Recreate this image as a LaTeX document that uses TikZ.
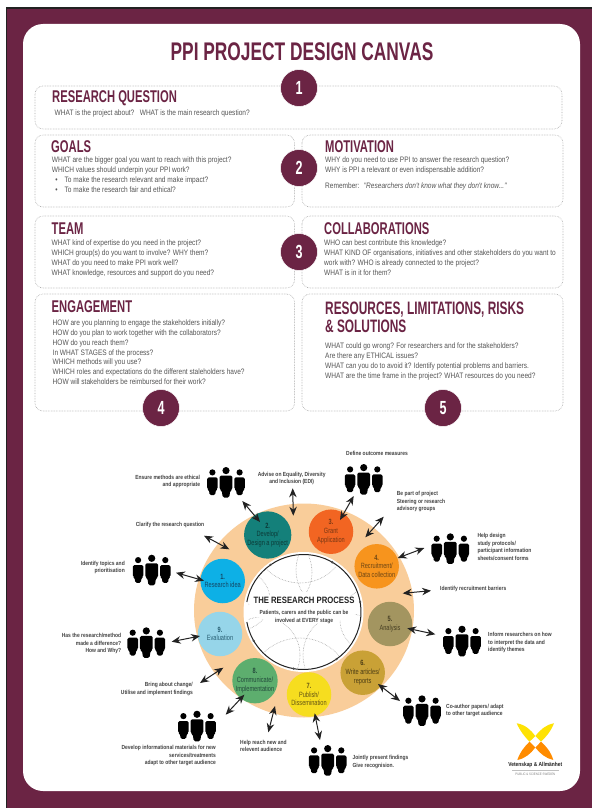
\documentclass[tikz,border=0pt]{standalone}
\usepackage{fontspec}
\usetikzlibrary{arrows.meta}
\setmainfont{Liberation Sans}
\newfontfamily\titlef[FakeStretch=0.68]{Liberation Sans}
\newfontfamily\headf[FakeStretch=0.66]{Liberation Sans}
\newfontfamily\bodyf[FakeStretch=0.83]{Liberation Sans}
\newfontfamily\stagef[FakeStretch=0.74]{Liberation Sans}
\newfontfamily\labf[FakeStretch=0.84]{Liberation Sans}
\definecolor{maroon}{HTML}{6B2444}
\definecolor{bodygray}{HTML}{555555}
\definecolor{boxgray}{HTML}{ABABAB}
\definecolor{ringc}{HTML}{F9CD9A}
\definecolor{inkc}{HTML}{222222}
\tikzset{
 canvasbox/.style={draw=boxgray,densely dotted,line width=.6pt,rounded corners=8pt},
 headt/.style={anchor=west,inner sep=0pt,text=maroon,font=\headf\bfseries\fontsize{17}{17}\selectfont,align=left},
 bodyt/.style={anchor=north west,inner sep=0pt,text=bodygray,font=\bodyf\fontsize{7.9}{9.7}\selectfont,align=left},
 numc/.style={circle,fill=maroon,draw=white,line width=.5pt,minimum size=37pt,inner sep=0pt,text=white,font=\headf\bfseries\fontsize{19}{19}\selectfont},
 stage/.style={circle,minimum size=44.5pt,inner sep=0pt,align=center,font=\stagef\fontsize{7.6}{8.7}\selectfont},
 lab/.style={inner sep=0pt,text=inkc!85!white,font=\labf\bfseries\fontsize{5.9}{7.5}\selectfont},
 labl/.style={lab,anchor=north west,align=left},
 labr/.style={lab,anchor=north east,align=right},
 labc/.style={lab,anchor=north,align=center},
 biarrow/.style={{Stealth[length=9pt,width=7.5pt,inset=3pt]}-{Stealth[length=9pt,width=7.5pt,inset=3pt]},line width=1pt,draw=inkc},
 netline/.style={draw=gray!80,densely dotted,line width=.55pt},
 people/.pic={
  \fill[black] (0,3.6) circle (3.6);
  \fill[black,rounded corners=1.5pt] (-6.4,8.6) -- (6.4,8.6) -- (6.4,22.5) -- (4.3,23.5) -- (3.2,30.6) -- (-3.2,30.6) -- (-4.3,23.5) -- (-6.4,22.5) -- cycle;
  \foreach \s in {-13.6,13.6}{
   \fill[black] (\s,5.4) circle (3.1);
   \fill[black,rounded corners=1.5pt] (\s-5.3,10.4) -- (\s+5.3,10.4) -- (\s+5.3,22) -- (\s+3.4,23) -- (\s+2.8,28.2) -- (\s-2.8,28.2) -- (\s-3.4,23) -- (\s-5.3,22) -- cycle;
  }
 }
}
\begin{document}
\begin{tikzpicture}[x=1pt,y=-1pt]
\useasboundingbox (0,0) rectangle (592,808);
\fill[white] (0,0) rectangle (592,808);
\fill[inkc] (6,7.5) rectangle (592,808);
\fill[maroon] (7,9) rectangle (592,808);
\fill[white,rounded corners=20pt] (23,24) rectangle (580,791);
\node[inner sep=0pt,text=maroon,font=\titlef\bfseries\fontsize{25.5}{26}\selectfont] (title) at (302,52) {PPI PROJECT DESIGN CANVAS};

% boxes
\draw[canvasbox] (35,86) rectangle (562,129);
\draw[canvasbox] (35,135) rectangle (294.5,207);
\draw[canvasbox] (302,135) rectangle (563,207);
\draw[canvasbox] (35,216) rectangle (294.5,288);
\draw[canvasbox] (302,216) rectangle (563,288);
\draw[canvasbox] (35,294) rectangle (294.5,411);
\draw[canvasbox] (302,294) rectangle (563,411);

% headings and text
\node[headt] (hq) at (52,98) {RESEARCH QUESTION};
\node[bodyt] (tq) at (54.5,110) {WHAT is the project about?\hspace{3pt} WHAT is the main research question?};
\node[headt] (hg) at (51,147) {GOALS};
\node[bodyt] (tg) at (51.7,157) {WHAT are the bigger goal you want to reach with this project?\\WHICH values should underpin your PPI work?\\\hspace*{3.5pt}•\hspace{7pt}To make the research relevant and make impact?\\\hspace*{3.5pt}•\hspace{7pt}To make the research fair and ethical?};
\node[headt] (hm) at (325,147) {MOTIVATION};
\node[bodyt] (tm) at (325,157) {WHY do you need to use PPI to answer the research question?\\WHY is PPI a relevant or even indispensable addition?};
\node[bodyt] (tr) at (325,183) {Remember:\hspace{2pt} \itshape "Researchers don't know what they don't know..."};
\node[headt] (ht) at (51.5,229) {TEAM};
\node[bodyt] (tt) at (51.5,240) {WHAT kind of expertise do you need in the project?\\WHICH group(s) do you want to involve? WHY them?\\WHAT do you need to make PPI work well?\\WHAT knowledge, resources and support do you need?};
\node[headt] (hc) at (324,229) {COLLABORATIONS};
\node[bodyt] (tc) at (324,240) {WHO can best contribute this knowledge?\\WHAT KIND OF organisations, initiatives and other stakeholders do you want to\\work with? WHO is already connected to the project?\\WHAT is in it for them?};
\node[headt] (he) at (51.5,307) {ENGAGEMENT};
\node[bodyt] (te) at (52.5,320) {HOW are you planning to engage the stakeholders initially?\\HOW do you plan to work together with the collaborators?\\HOW do you reach them?\\In WHAT STAGES of the process?\\WHICH methods will you use?\\WHICH roles and expectations do the different staleholders have?\\HOW will stakeholders be reimbursed for their work?};
\node[headt,font=\headf\bfseries\fontsize{18}{18}\selectfont,anchor=north west] (hr) at (325,302) {RESOURCES, LIMITATIONS, RISKS\\\& SOLUTIONS};
\node[bodyt] (tx) at (325,343) {WHAT could go wrong? For researchers and for the stakeholders?\\Are there any ETHICAL issues?\\WHAT can you do to avoid it? Identify potential problems and barriers.\\WHAT are the time frame in the project? WHAT resources do you need?};

\node[numc] (n1) at (299,88) {1};
\node[numc] (n2) at (299,168) {2};
\node[numc] (n3) at (299,252) {3};
\node[numc] (n4) at (161,408) {4};
\node[numc] (n5) at (443,408) {5};

% ring
\fill[ringc] (304,610.5) ellipse [x radius=110, y radius=107];
\fill[white] (303.5,612) circle (60);
\begin{scope}
\clip (303.5,612) circle (56);
\draw[netline] (272,572) circle (40);
\draw[netline] (338,570) circle (42);
\draw[netline] (300,535) circle (48);
\draw[netline] (262,655) circle (38);
\draw[netline] (345,655) circle (42);
\draw[netline] (300,690) circle (52);
\draw[netline] (240,600) circle (30);
\draw[netline] (372,620) circle (32);
\end{scope}
\fill[white] (304,608) ellipse [x radius=56, y radius=16];
\draw[inkc,line width=1pt] (303.5,612) ++(190:57.5) arc [start angle=190,end angle=530,radius=57.5];
\foreach \a in {235,300,350,55,100,150}{\fill[gray!60!black] (303.5,612) ++(\a:57.5) circle (1.3);}
\node[inner sep=0pt,text=inkc,font=\labf\bfseries\fontsize{9.2}{10}\selectfont] (rp) at (304,600.7) {THE RESEARCH PROCESS};
\node[inner sep=0pt,text=inkc!85!white,align=center,font=\labf\bfseries\fontsize{5.9}{7.7}\selectfont] (rps) at (304,617) {Patients, carers and the public can be\\involved at EVERY stage};

% stages
\node[stage,fill={rgb,255:red,13;green,176;blue,230},text={rgb,255:red,20;green,70;blue,100}] (s1) at (222.7,581) {\textbf{1.}\\Research idea};
\node[stage,fill={rgb,255:red,20;green,128;blue,122},text={rgb,255:red,12;green,58;blue,55}] (s2) at (267.7,535) {\textbf{2.}\\Develop/\\Design a project};
\node[stage,fill={rgb,255:red,242;green,101;blue,34},text={rgb,255:red,120;green,55;blue,20}] (s3) at (331,531.7) {\textbf{3.}\\Grant\\Application};
\node[stage,fill={rgb,255:red,247;green,148;blue,29},text={rgb,255:red,110;green,70;blue,20}] (s4) at (376.7,566.3) {\textbf{4.}\\Recruitment/\\Data collection};
\node[stage,fill={rgb,255:red,163;green,149;blue,96},text={rgb,255:red,70;green,62;blue,35}] (s5) at (390,624) {\textbf{5.}\\Analysis};
\node[stage,fill={rgb,255:red,201;green,161;blue,54},text={rgb,255:red,75;green,60;blue,20}] (s6) at (362.7,672.7) {\textbf{6.}\\Write articles/\\reports};
\node[stage,fill={rgb,255:red,246;green,221;blue,31},text={rgb,255:red,100;green,85;blue,20}] (s7) at (309,694.5) {\textbf{7.}\\Publish/\\Dissemination};
\node[stage,fill={rgb,255:red,93;green,174;blue,110},text={rgb,255:red,35;green,75;blue,60}] (s8) at (255,680.7) {\textbf{8.}\\Communicate/\\Implementation};
\node[stage,fill={rgb,255:red,150;green,213;blue,233},text={rgb,255:red,40;green,95;blue,115}] (s9) at (220,634) {\textbf{9.}\\Evaluation};

% people
\pic at (226,467) {people};
\pic at (151.7,554.7) {people};
\pic at (363.7,464) {people};
\pic at (450.3,533.3) {people};
\pic at (462,625.7) {people};
\pic at (422,695.3) {people};
\pic at (327.7,745) {people};
\pic at (197,710.7) {people};
\pic at (146.3,627.3) {people};

% arrow ends
\coordinate (a1a) at (176,572.7);  \coordinate (a1b) at (204,580.7);
\coordinate (a2a) at (204,535.7);  \coordinate (a2b) at (229.3,549.3);
\coordinate (a3a) at (242.3,501);  \coordinate (a3b) at (260,522);
\coordinate (a4a) at (292.7,488.3);\coordinate (a4b) at (293.3,515.7);
\coordinate (a5a) at (353.7,496);  \coordinate (a5b) at (340,520);
\coordinate (a6a) at (383.7,516.7);\coordinate (a6b) at (365.3,537.3);
\coordinate (a7a) at (424.3,548);  \coordinate (a7b) at (397.7,558);
\coordinate (a8a) at (431,590.7);  \coordinate (a8b) at (402.7,593.3);
\coordinate (a9a) at (407.3,628.3);\coordinate (a9b) at (435.3,634.3);
\coordinate (a10a) at (378,684);   \coordinate (a10b) at (400,701);
\coordinate (a11a) at (314.7,713.3);\coordinate (a11b) at (320,740);
\coordinate (a12a) at (275,706);   \coordinate (a12b) at (268.3,732.3);
\coordinate (a13a) at (244.3,694.7);\coordinate (a13b) at (225.7,714.7);
\coordinate (a14a) at (223.3,667.7);\coordinate (a14b) at (200,683);
\coordinate (a15a) at (200,636);   \coordinate (a15b) at (171.7,641.7);
\foreach \i in {1,...,15}{\draw[biarrow] (a\i a) -- (a\i b);}

% labels
\node[labr] (l1) at (200.3,475) {Ensure methods are ethical\\and appropriate};
\node[labc] (l2) at (291.7,471.7) {Advise on Equality, Diversity\\and Inclusion (EDI)};
\node[labl] (l3) at (135.7,521.8) {Clarify the research question};
\node[labr] (l4) at (125,561) {Identify topics and\\prioritisation};
\node[labl] (l5) at (346,451.5) {Define outcome measures};
\node[labl] (l6) at (396.7,491.5) {Be part of project\\Steering or research\\advisory groups};
\node[labl] (l7) at (477.3,533.5) {Help design\\study protocols/\\participant information\\sheets/consent forms};
\node[labl] (l8) at (440,585.8) {Identify recruitment barriers};
\node[labl] (l9) at (488,632.5) {Inform researchers on how\\to interpret the data and\\identify themes};
\node[labl] (l10) at (446,704) {Co-author papers/ adapt\\to other target audience};
\node[labl] (l11) at (352.3,755.5) {Jointly present findings\\Give recognision.};
\node[labl] (l12) at (240,740) {Help reach new and\\relevent audience};
\node[labr] (l13) at (216,745.5) {Develop informational materials for new\\services/treatments\\adapt to other target audience};
\node[labr] (l14) at (193,682.5) {Bring about change/\\Utilise and implement findings};
\node[labr] (l15) at (121.3,633.5) {Has the research/method\\made a difference?\\How and Why?};

% logo
\fill[yellow!85!orange] (516.7,723.3) .. controls (525,724.5) and (531,730) .. (535.3,736) -- (529.5,741.7) .. controls (525,737) and (520,731) .. cycle;
\fill[yellow!85!orange] (554,723.3) .. controls (546,724.5) and (540,730) .. (535.3,736) -- (541,741.7) .. controls (546,737) and (551,731) .. cycle;
\fill[orange!90!yellow] (517.3,760) .. controls (525,758.5) and (531,753.5) .. (535.3,747.5) -- (529.5,741.7) .. controls (525,746) and (520,752) .. cycle;
\fill[orange!90!yellow] (553.3,760) .. controls (546,758.5) and (540,753.5) .. (535.3,747.5) -- (541,741.7) .. controls (546,746) and (551,752) .. cycle;
\node[inner sep=0pt,text=inkc,font=\labf\bfseries\fontsize{5.8}{6}\selectfont] (lg1) at (535.3,765) {Vetenskap \& Allmänhet};
\draw[gray!50,line width=.3pt] (512,770.3) -- (559,770.3);
\node[inner sep=0pt,text=gray,font=\labf\fontsize{3.4}{4}\selectfont] (lg2) at (535.3,774.3) {PUBLIC \& SCIENCE SWEDEN};
\end{tikzpicture}
\end{document}
